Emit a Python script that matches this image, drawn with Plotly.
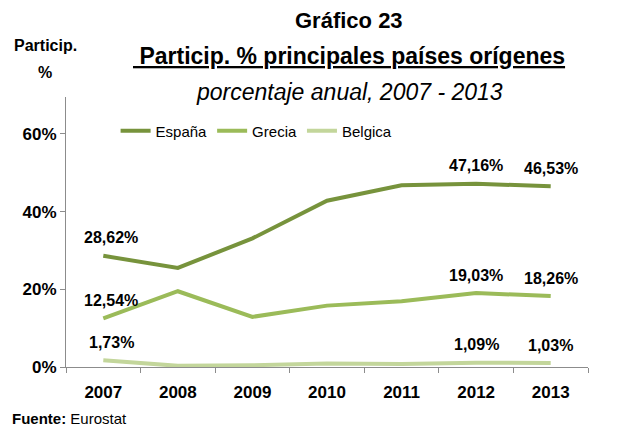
import plotly.graph_objects as go

years = ["2007", "2008", "2009", "2010", "2011", "2012", "2013"]
espana = [28.62, 25.5, 33.1, 42.8, 46.8, 47.16, 46.53]
grecia = [12.54, 19.5, 12.9, 15.8, 16.9, 19.03, 18.26]
belgica = [1.73, 0.3, 0.45, 0.9, 0.8, 1.09, 1.03]
labelled_years = ["2007", "2012", "2013"]
y_ticks = [0, 20, 40, 60]

series = [
    ("España", espana, "#77933C"),
    ("Grecia", grecia, "#9BBB59"),
    ("Belgica", belgica, "#C3D69B"),
]

FONT = "Liberation Sans, Arial"

fig = go.Figure()
for name, vals, color in series:
    fig.add_trace(go.Scatter(
        x=years, y=vals, name=name, mode="lines",
        line=dict(color=color, width=4),
    ))
    # value labels only on first and last two years
    for i, (yr, v) in enumerate(zip(years, vals)):
        if yr in labelled_years:
            fig.add_annotation(
                x=i, y=v, text="<b>" + f"{v:.2f}%".replace(".", ",") + "</b>",
                showarrow=False, yshift=18, xshift=8 if yr == "2007" else 0,
                font=dict(family=FONT, size=16, color="black"),
            )

fig.update_xaxes(
    type="category", range=[-0.5, 6.5],
    showline=True, linecolor="#8c8c8c", linewidth=1,
    ticks="outside", ticklen=5, tickcolor="#8c8c8c",
    tickson="boundaries", showgrid=False, ticklabelstandoff=10,
    tickfont=dict(family=FONT, size=17, color="black", weight="bold"),
)
fig.update_yaxes(
    range=[0, 69.5], tickvals=y_ticks, ticktext=[f"{t}%" for t in y_ticks],
    showline=True, linecolor="#8c8c8c", linewidth=1,
    ticks="outside", ticklen=5, tickcolor="#8c8c8c",
    showgrid=False, zeroline=False,
    tickfont=dict(family=FONT, size=17, color="black", weight="bold"),
)

# titles
fig.add_annotation(
    xref="paper", yref="paper", x=0.543, y=1.0, yshift=77, xanchor="center", yanchor="middle",
    text="<b>Gráfico 23</b>", showarrow=False,
    font=dict(family=FONT, size=22, color="black"),
)
fig.add_annotation(
    xref="paper", yref="paper", x=0.543, y=1.0, yshift=41, xanchor="center", yanchor="middle",
    text="<b><u> Particip. % principales países orígenes</u></b>", showarrow=False,
    font=dict(family=FONT, size=23, color="black"),
)
fig.add_annotation(
    xref="paper", yref="paper", x=0.543, y=1.0, yshift=5, xanchor="center", yanchor="middle",
    text="<i>porcentaje anual, 2007 - 2013</i>", showarrow=False,
    font=dict(family=FONT, size=23, color="black"),
)
fig.add_annotation(
    xref="paper", yref="paper", x=0, xshift=-21, y=1.0, yshift=52, xanchor="center", yanchor="middle",
    text="<b>Particip.</b>", showarrow=False,
    font=dict(family=FONT, size=16, color="black"),
)
fig.add_annotation(
    xref="paper", yref="paper", x=0, xshift=-21, y=1.0, yshift=25, xanchor="center", yanchor="middle",
    text="<b>%</b>", showarrow=False,
    font=dict(family=FONT, size=16, color="black"),
)
fig.add_annotation(
    xref="paper", yref="paper", x=0, xshift=-56, y=0, yshift=-51, xanchor="left", yanchor="middle",
    text="<b>Fuente:</b> Eurostat", showarrow=False,
    font=dict(family=FONT, size=15, color="black"),
)

fig.update_layout(
    width=620, height=428,
    margin=dict(l=66, r=32, t=97, b=61),
    plot_bgcolor="white", paper_bgcolor="white",
    legend=dict(
        orientation="h", x=0.095, y=0.935, xanchor="left", yanchor="top",
        font=dict(family=FONT, size=15, color="black"),
        bgcolor="rgba(0,0,0,0)", itemwidth=30, tracegroupgap=0,
    ),
)

fig.write_html("out.html", config={"displayModeBar": False},
               post_script="document.body.style.margin='0';")
